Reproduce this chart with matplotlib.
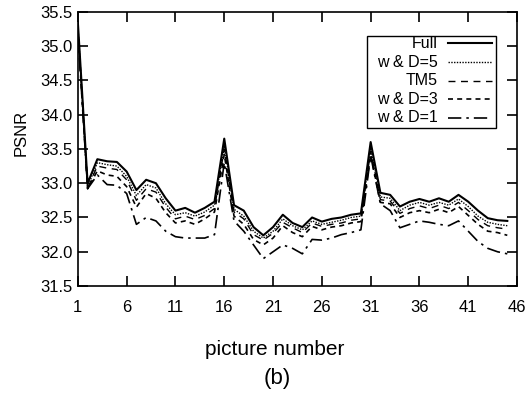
import matplotlib

matplotlib.use("Agg")

import matplotlib.pyplot as plt
from matplotlib.patches import Rectangle

plt.rcParams["font.family"] = ["Liberation Sans", "DejaVu Sans"]

# PSNR per picture
pictures = list(range(1, 46))
full = [35.35, 33.0, 33.35, 33.32, 33.31, 33.17, 32.9, 33.05, 33.0, 32.78,
        32.6, 32.64, 32.57, 32.64, 32.73, 33.65, 32.68, 32.6, 32.36, 32.24,
        32.36, 32.54, 32.42, 32.36, 32.5, 32.44, 32.48, 32.5, 32.54, 32.56,
        33.6, 32.86, 32.83, 32.66, 32.73, 32.77, 32.73, 32.78, 32.73, 32.83,
        32.73, 32.6, 32.49, 32.46, 32.45]
wd5 = [35.3, 32.95, 33.3, 33.27, 33.25, 33.1, 32.82, 32.98, 32.93, 32.7,
       32.54, 32.57, 32.52, 32.58, 32.68, 33.55, 32.62, 32.52, 32.3, 32.2,
       32.3, 32.48, 32.38, 32.32, 32.45, 32.4, 32.43, 32.46, 32.5, 32.52,
       33.52, 32.8, 32.78, 32.6, 32.68, 32.72, 32.68, 32.72, 32.68, 32.77,
       32.66, 32.52, 32.43, 32.4, 32.38]
tm5 = [35.28, 32.93, 33.25, 33.22, 33.2, 33.05, 32.75, 32.92, 32.87, 32.65,
       32.48, 32.52, 32.47, 32.53, 32.63, 33.5, 32.58, 32.48, 32.25, 32.17,
       32.27, 32.43, 32.35, 32.28, 32.42, 32.37, 32.4, 32.42, 32.46, 32.48,
       33.47, 32.76, 32.74, 32.56, 32.63, 32.67, 32.63, 32.68, 32.63, 32.72,
       32.6, 32.47, 32.38, 32.35, 32.33]
wd3 = [35.25, 32.92, 33.18, 33.12, 33.1, 32.95, 32.65, 32.85, 32.78, 32.57,
       32.42, 32.45, 32.4, 32.48, 32.58, 33.42, 32.52, 32.4, 32.18, 32.1,
       32.2, 32.38, 32.28, 32.22, 32.37, 32.32, 32.36, 32.38, 32.42, 32.44,
       33.42, 32.72, 32.7, 32.5, 32.57, 32.6, 32.57, 32.62, 32.57, 32.66,
       32.53, 32.4, 32.3, 32.28, 32.24]
wd1 = [35.2, 32.92, 33.12, 32.98, 32.97, 32.85, 32.4, 32.5, 32.45, 32.3,
       32.22, 32.2, 32.2, 32.2, 32.25, 33.3, 32.45, 32.3, 32.1, 31.9,
       32.0, 32.1, 32.05, 31.97, 32.18, 32.17, 32.2, 32.25, 32.28, 32.32,
       33.4, 32.7, 32.6, 32.35, 32.4, 32.45, 32.43, 32.4, 32.38, 32.45,
       32.3, 32.15, 32.05, 32.0, 31.97]

labels = ["Full", "w & D=5", "TM5", "w & D=3", "w & D=1"]
x_ticks = [1, 6, 11, 16, 21, 26, 31, 36, 41, 46]
y_ticks = [31.5, 32.0, 32.5, 33.0, 33.5, 34.0, 34.5, 35.0, 35.5]

styles = [
    dict(lw=1.5, ls="-"),
    dict(lw=1.0, ls=(0, (1, 1))),
    dict(lw=1.0, ls=(0, (5, 4))),
    dict(lw=1.2, ls=(0, (3, 2.5))),
    dict(lw=1.2, ls=(0, (8, 3, 1.5, 3))),
]

fig = plt.figure(figsize=(5.26, 3.94), dpi=100)
ax = fig.add_axes([0.148, 0.274, 0.835, 0.696])

for series, style in zip([full, wd5, tm5, wd3, wd1], styles):
    ax.plot(pictures, series, color="black", **style)

ax.set_xlim(1, 46)
ax.set_ylim(31.5, 35.5)
ax.set_xticks(x_ticks)
ax.set_yticks(y_ticks)
ax.set_yticklabels([f"{v:.1f}" for v in y_ticks])
ax.tick_params(direction="in", length=7, width=1.2, top=True, right=True,
               labelsize=12, colors="black")
ax.tick_params(axis="x", pad=10)
ax.tick_params(axis="y", pad=4)
for spine in ax.spines.values():
    spine.set_linewidth(1.2)

fig.text(0.04, 0.662, "PSNR", rotation=90, ha="center", va="center", fontsize=12)
fig.text(0.523, 0.113, "picture number", ha="center", va="center", fontsize=15)
fig.text(0.527, 0.04, "(b)", ha="center", va="center", fontsize=16)

# hand-made legend: right-aligned labels with the line sample after them
ax.add_patch(Rectangle((0.658, 0.577), 0.294, 0.335, transform=ax.transAxes,
                       facecolor="white", edgecolor="black", lw=1.0, zorder=3))
for i, (label, style) in enumerate(zip(labels, styles)):
    y = 0.885 - i * 0.068
    ax.text(0.82, y, label, transform=ax.transAxes, ha="right", va="center",
            fontsize=11.5, zorder=4)
    ax.plot([0.843, 0.943], [y, y], transform=ax.transAxes, color="black",
            zorder=4, **style)

fig.savefig("out.png", dpi=100)
